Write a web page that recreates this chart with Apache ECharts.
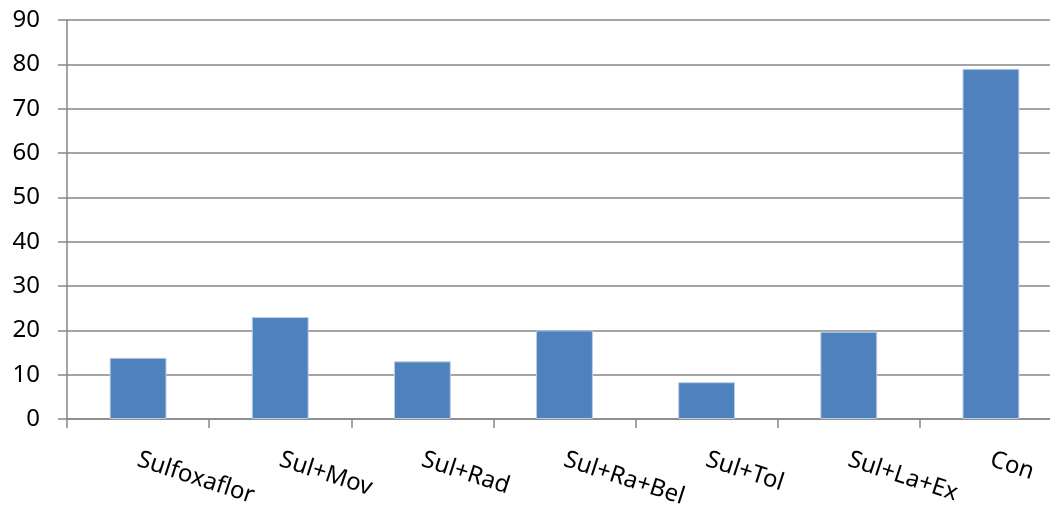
<!DOCTYPE html>
<html>
<head>
<meta charset="utf-8">
<script src="https://cdn.jsdelivr.net/npm/echarts@6/dist/echarts.min.js"></script>
<style>
  html, body { margin: 0; padding: 0; background: #fff; }
  #main { width: 1050px; height: 508px; }
</style>
</head>
<body>
<div id="main"></div>
<script>
// categories and values
const categories = ['Sulfoxaflor', 'Sul+Mov', 'Sul+Rad', 'Sul+Ra+Bel', 'Sul+Tol', 'Sul+La+Ex', 'Con'];
const values = [13.8, 23, 13, 20, 8.3, 19.7, 79];
const yTicks = [0, 90, 10]; // min, max, interval

const chart = echarts.init(document.getElementById('main'), null, { renderer: 'canvas' });

const font = '"Noto Sans", sans-serif';
const axisGray = '#868686';

var option = {
  animation: false,
  grid: {
    left: 67,
    width: 995, // plot runs past the right edge, like the original
    top: 20,
    bottom: 89,
    containLabel: false,
    outerBoundsMode: 'none'
  },
  xAxis: {
    type: 'category',
    data: categories,
    axisLine: { lineStyle: { color: axisGray, width: 1.5 } },
    axisTick: { show: true, length: 9, lineStyle: { color: axisGray, width: 1.5 } },
    axisLabel: {
      rotate: -18,
      margin: 40,
      color: '#000',
      fontFamily: font,
      fontSize: 24,
      interval: 0
    }
  },
  yAxis: {
    type: 'value',
    min: yTicks[0],
    max: yTicks[1],
    interval: yTicks[2],
    axisLine: { show: true, lineStyle: { color: axisGray, width: 1.5 } },
    axisTick: { show: true, length: 9, lineStyle: { color: axisGray, width: 1.5 } },
    splitLine: { lineStyle: { color: axisGray, width: 1.5 } },
    axisLabel: {
      margin: 27,
      color: '#000',
      fontFamily: font,
      fontSize: 24
    }
  },
  series: [{
    type: 'bar',
    data: values,
    barWidth: '40%',
    itemStyle: {
      color: '#4F81BD',
      borderColor: '#B9CDE5',
      borderWidth: 1
    }
  }]
};

chart.setOption(option);
</script>
</body>
</html>
